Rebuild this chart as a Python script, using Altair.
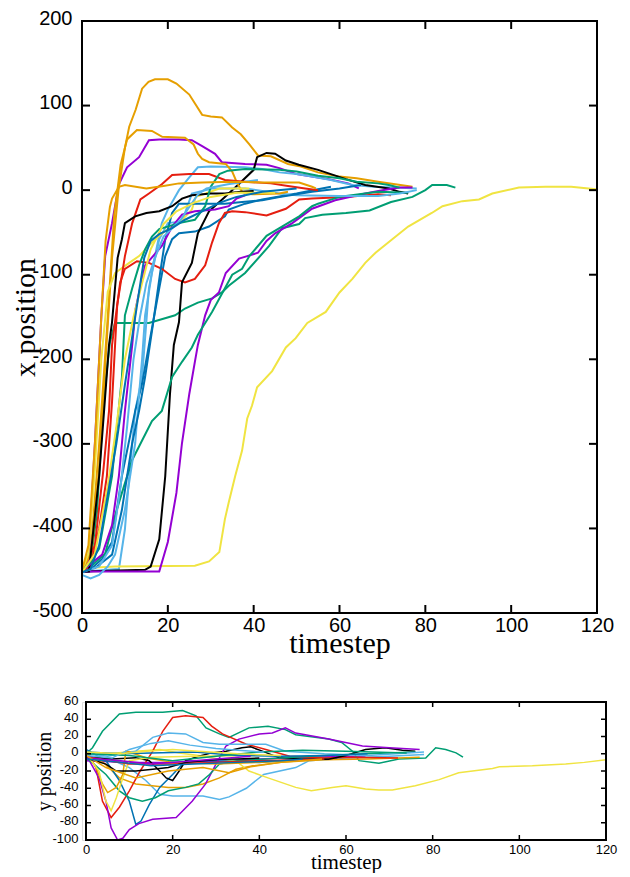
import altair as alt
import pandas as pd

# gnuplot default colour cycle
COL = {"purple": "#9400D3", "green": "#009E73", "lightblue": "#56B4E9", "orange": "#E69F00",
       "yellow": "#F0E442", "blue": "#0072B2", "red": "#E51E10", "black": "#000000"}

x_ticks = [0, 20, 40, 60, 80, 100, 120]
top_y_ticks = [-500, -400, -300, -200, -100, 0, 100, 200]
bot_y_ticks = [-100, -80, -60, -40, -20, 0, 20, 40, 60]

# ---------- trajectories: (name, colour, x-panel t, x values, y-panel t, y values) ----------
I_xt = [0, 1.5, 3, 4.5, 5.4, 7, 8.6, 10.5, 13.3, 15.6, 18, 22.6, 25.6, 28, 31, 32.6, 38, 43, 46, 50, 57.5, 62, 64.5]
I_xv = [-450, -440, -300, -150, -78, -39, 7, 27, 39, 59, 60, 60, 59, 52, 43, 33, 31, 30, 26, 19, 13, 8, 2]
I_yt = [0, 10, 20, 30, 40, 50, 64.5]
I_yv = [-8, -10, -10, -9, -6, -4, -3]

L_xt = [0, 2, 3.5, 5, 6.5, 7.7, 15.6, 21.7, 24, 27, 30.3, 32.6, 34.2, 38, 43.6, 46.6, 50.6, 52, 56, 61.5, 67, 72, 77, 80, 81.6, 85, 87]
L_xv = [-450, -440, -380, -250, -180, -157, -157, -148, -140, -133, -128, -121, -113, -98, -66, -45, -40, -33, -29, -27, -24, -14, -8, 0, 6, 6, 3]
L_yt = [0, 1.5, 3.8, 7.7, 11.5, 17.7, 22.3, 25.4, 27.7, 30.8, 33, 37.6, 42, 46, 48.4, 56, 59, 61.5, 63, 67.6, 72.2, 78.4, 80.7, 83, 85.4, 87]
L_yv = [0, 7, 26, 46, 48, 48, 50, 44, 30, 23, 19, 30, 32, 28, 22, 17, 13, 3, -8, -11, -6, -5, 7, 5, 1, -4]

O_xt = [0, 3, 6, 8.6, 10, 11, 12.4, 14, 15.6, 17, 18.6, 20, 22.6, 25, 27, 30, 38, 42, 46, 50, 53.6, 58, 63, 68, 73, 78]
O_xv = [-452, -450, -449, -448, -401, -338, -261, -221, -116, -78, -39, -23, 0, 15, 27, 28, 27, 25, 21, 19, 16, 12, 6, 4, 3, 2]
O_yt = [0, 5, 10, 13.8, 17, 20, 27, 30.8, 33, 37, 41, 48.4, 51.5, 60, 70, 78]
O_yv = [-3, -5, -16, -31, -47, -49, -49, -53, -50, -40, -24, -16, -8, -5, -3, -1]

A_xt = [0, 2, 4, 5.5, 7, 8.5, 10, 11, 12.5, 14, 15.5, 17, 20, 22, 25, 28, 30, 32.6, 35, 37, 39, 41, 44, 48, 51, 55, 60, 64, 69, 73, 77]
A_xv = [-450, -440, -330, -200, -80, 0, 50, 75, 95, 120, 128, 131, 131, 126, 113, 89, 87, 86, 74, 66, 54, 41, 40, 31, 28, 21, 16, 14, 10, 7, 4]
A_yt = [0, 4, 7.7, 11.5, 19, 23, 27, 30.8, 34.6, 38.5, 45, 55, 65, 77]
A_yv = [-3, -10, -28, -35, -39, -39, -35, -28, -18, -14, -10, -7, -6, -4]

Y1_xt = [0, 7.7, 26.3, 29.6, 32, 33.3, 34.2, 35.7, 37.3, 38.5, 39.6, 40.8, 44.3, 47.5, 49.8, 52.5, 56.8, 60, 63, 66, 68.4, 72.3, 76, 81.5, 84, 88.6, 92.5, 95.6, 101.8, 108, 114, 119.8]
Y1_xv = [-447, -445, -444, -439, -428, -389, -369, -338, -308, -270, -255, -233, -214, -186, -175, -157, -144, -121, -105, -86, -74, -58, -43, -27, -19, -13, -11, -4, 3, 4, 4, 1]
Y1_yt = [0, 5, 11.5, 17, 21.5, 26, 30.8, 34.6, 37.6, 42, 48.4, 52, 56.8, 60, 64.5, 67.6, 70.7, 76, 81.5, 86, 93.8, 95.4, 103, 110.7, 115, 120]
Y1_yv = [-1, 0, 3, 5, 1, -2, -6.5, -8.4, -20, -28, -39, -43, -39, -37, -41, -42, -42, -37, -30, -22, -17, -15, -14, -12, -10, -7]

Q_xt = [0, 2.3, 4.7, 7, 9.3, 12.4, 14, 15.6, 18, 19.4, 21, 22.6, 26.3, 29.6, 33.3, 34.2, 38, 42, 50, 55, 58]
Q_xv = [-450, -447, -436, -416, -338, -261, -229, -183, -116, -78, -58, -51, -49, -43, -31, -23, -16, -11, -4, 1, 4]
Q_yt = [0, 4.6, 7.7, 10, 11.5, 12.7, 14.6, 17, 20, 23, 30, 40, 50, 58]
Q_yv = [5, -8, -31, -55, -82, -78, -59, -39, -24, -8, -8, -10, -6, -5]

H_xt = [0, 3, 5, 6.3, 7, 8.9, 10, 12.8, 15.6, 18.6, 21.7, 24, 26.3, 28.7, 30.3, 31.9, 33.3, 35, 38, 43, 47.5, 50.6, 53.6, 61.5, 69, 72]
H_xv = [-450, -420, -330, -261, -183, -109, -93, -84, -86, -93, -105, -109, -105, -89, -62, -39, -27, -25, -26, -30, -22, -11, -10, -8, -5, -6]
H_yt = [0, 2.3, 3.8, 5.8, 7.7, 10, 12.5, 15.4, 17.7, 20, 23, 27, 29, 31.5, 37, 41.5, 47, 55, 62, 72]
H_yv = [2, -16, -55, -74, -62, -43, -20, 3, 26, 42, 44, 42, 32, 23, 11, 5, -3, -5, -4, -5]

E_xt = [0, 14.7, 16, 18, 19.4, 20.5, 21.4, 22.6, 23.3, 25.6, 27, 29.6, 33.3, 36.5, 40, 40.8, 43, 45, 47.5, 50.5, 55, 61.5, 66, 71.5, 74, 76]
E_xv = [-451, -449, -445, -413, -338, -241, -183, -156, -109, -86, -51, -25, -8, 7, 24, 39, 44, 43, 35, 30, 24, 13, 6, 2, -2, -4]
E_yt = [0, 6, 11.5, 14.6, 17, 18.5, 20, 21.5, 23, 26, 29, 32.3, 36, 38, 40.7, 44.5, 50, 56, 60, 64.5, 69, 73, 76]
E_yv = [-3, -6, -4.5, -8, -20, -28, -31, -20, -8, -3, 1, 3, 7, 8, 3, -4.5, -6, -6.5, -2, 5, 7, 4, 3]

J_xt = [0, 18, 20, 22, 23.3, 25, 26.3, 27, 28.7, 30, 31.9, 33.5, 36.6, 38.5, 41, 43, 45, 49, 53.6, 59, 66, 70, 74, 77]
J_xv = [-451, -451, -416, -358, -299, -241, -203, -183, -148, -130, -121, -98, -81, -78, -74, -60, -51, -39, -22, -12, -4, 0, 3, 3]
J_yt = [0, 3, 4.6, 5.8, 7.3, 8.5, 10, 12.2, 15.4, 20.8, 24.5, 27.6, 30, 32.3, 35.3, 40, 43, 46, 48.4, 56, 63.8, 70, 77]
J_yv = [-1, -28, -55, -86, -100, -98, -88, -81, -76, -74, -55, -35, -12, 9, 17, 23, 24, 30, 24, 17, 9, 7, 5]

M_xt = [0, 1.6, 5.4, 7.7, 9.3, 11.7, 14, 16.3, 18.6, 21, 23.3, 25.6, 27, 30.3, 33.3, 35, 37.3, 39, 43, 46, 50.6, 53.6, 55, 60, 61.5, 69, 76]
M_xv = [-452, -447, -430, -385, -358, -319, -296, -273, -261, -221, -203, -186, -171, -144, -116, -100, -93, -78, -54, -45, -31, -19, -16, -8, -7, -2, -3]
M_yt = [0, 4.6, 7.7, 10, 13, 16, 19, 23, 26, 28.5, 30.8, 35, 45, 55, 65, 76]
M_yv = [-4, -24, -43, -51, -55, -51, -43, -39, -35, -24, -12, -8, -5, -2, 0, 2]

P_xt = [0, 2, 4, 6, 7.7, 10, 12.4, 13.3, 14, 14.7, 16.3, 18, 20, 23.3, 24.5, 25.6, 30.3, 38, 46, 50, 60, 69, 74, 78]
P_xv = [-455, -459, -455, -445, -431, -378, -299, -241, -200, -148, -98, -58, -39, -37, -20, -4, 2, 2, -4, -6, -7, -7, -4, 0]
P_yt = [0, 5, 11.5, 15.4, 19, 23, 27, 30.8, 41.5, 46, 55, 65, 78]
P_yv = [0, -3, 3, 19, 24, 23, 13, 11, 11, 3, 0, -2, 2]

B_xt = [0, 2, 4, 6, 7.5, 9, 10.5, 12.8, 16.3, 18.7, 24, 26, 27, 28, 29.6, 33.5, 35, 36, 37.3, 39.6, 46, 48]
B_xv = [-450, -430, -300, -150, -30, 30, 60, 71, 70, 63, 62, 54, 43, 37, 33, 31, 22, 10, -2, -5, -4, -2]
B_yt = [0, 2.3, 3.8, 5, 7, 8.5, 9.2, 10, 14, 20, 30, 40, 48]
B_yv = [3, -16, -35, -45, -39, -24, 3, 2, -5, -10, -12, -10, -8]

Y2_xt = [0, 1.5, 3, 4.5, 6, 7.7, 11, 13.3, 16.3, 18, 20, 22.6, 25.6, 26.5, 28.8, 32, 39]
Y2_xv = [-450, -430, -330, -200, -120, -98, -86, -78, -62, -54, -46, -39, -23, -8, -4, 2, 2]
Y2_yt = [0, 3, 4.6, 5.8, 7, 8.5, 10, 15, 25, 39]
Y2_yv = [0, -20, -55, -66, -51, -28, -8, -4, -3, -2]

R_xt = [0, 3, 7, 9.3, 11.7, 13.3, 14.7, 16.5, 18.2, 19.4, 21, 22.6, 27, 33.3, 37.3, 42, 46, 53.6, 60, 65]
R_xv = [-450, -447, -431, -378, -299, -261, -221, -160, -98, -58, -27, -16, -16, -16, -14, -12, -8, -2, 2, 6]
R_yt = [0, 8, 15, 25, 35, 45, 55, 65]
R_yv = [2, 0, 1, 2, -2, -3, -2, 0]

G_xt = [0, 2, 4, 5.8, 7, 8.2, 10, 11.7, 13.6, 15.6, 18.6, 21, 25, 29.6, 33.3, 38, 44, 48, 52, 55]
G_xv = [-450, -445, -400, -338, -250, -136, -78, -39, -11, -4, 7, 18, 19, 19, 12, 10, 8, 5, 2, 0]
G_yt = [0, 5, 10, 20, 30, 40, 55]
G_yv = [-3, -8, -12, -12, -10, -8, -6]

F_xt = [0, 1.6, 4, 6.3, 7, 8.3, 9.3, 10, 12.4, 15, 18, 21, 23.3, 25.6, 30, 33.3, 37, 40]
F_xv = [-451, -451, -338, -183, -156, -80, -58, -39, -31, -27, -25, -19, -10, -6, -4, -4, -2, -1]
F_yt = [0, 4.6, 7, 11.5, 15.4, 19, 23, 27, 30.8, 35, 40]
F_yv = [-5, -12, -20, -20, -18, -16, -10, -8, -6.5, -6, -5]

K_xt = [0, 2.5, 4.7, 7, 8.6, 10, 11.7, 12.5, 14.7, 18.6, 21, 23.3, 26.3, 31, 34.2, 36, 38]
K_xv = [-450, -440, -431, -396, -338, -261, -183, -140, -89, -66, -43, -29, -25, -23, -19, -10, -6]
K_yt = [0, 8, 15, 25, 38]
K_yv = [-5, -8, -12, -8, -3]

N_xt = [0, 2, 4, 7, 9.3, 10, 11.7, 13.3, 14.7, 16.3, 18, 22.6, 26.3, 28.7, 30, 32, 34, 38, 46, 50, 55, 60, 64, 69, 71.5, 74]
N_xv = [-450, -440, -424, -338, -221, -148, -116, -89, -70, -55, -46, -39, -35, -19, 4, 19, 23, 25, 24, 22, 17, 14, 10, 8, 6, 3]
N_yt = [0, 10, 20, 30, 40, 50, 60, 74]
N_yv = [0, -2, -8, -3, 2, 4, 3, 1]

T_xt = [0, 4, 7, 9, 10.5, 12, 13.5, 15, 17, 19, 21, 23, 25, 27, 29, 34, 38, 41]
T_xv = [-452, -445, -420, -350, -280, -200, -150, -110, -80, -55, -45, -35, -20, -5, 2, 7, 10, 12]
T_yt = [0, 6, 10, 15, 19, 24, 30, 35, 41]
T_yv = [-2, -5, 5, 12, 15, 10, 6, 4, 2]

C_xt = [0, 1.5, 3, 4.5, 5.5, 6.5, 7, 8.6, 10, 15, 19, 22.6, 28, 35, 42, 50.6, 53.6, 54.5]
C_xv = [-450, -420, -300, -150, -60, -20, -10, 4, 6, 2, 5, 8, 9, 10, 9, 9, 4, 2]
C_yt = [0, 4.6, 11.5, 19, 27, 33, 38, 45, 54.5]
C_yv = [-2, -16, -28, -20, -16, -22, -15, -10, -6]

Y3_xt = [0, 3, 6, 8, 10, 12, 14, 16, 19, 22, 26, 30, 36, 45]
Y3_xv = [-452, -430, -350, -280, -200, -150, -110, -70, -40, -25, -15, -8, -3, -3]
Y3_yt = [0, 8, 14, 20, 26, 35, 45]
Y3_yv = [2, 0, 3, 5, 3, 0, -2]

S_xt = [0, 2, 4, 6, 8, 10, 11.5, 13, 14.5, 16, 18, 21, 24, 28, 32, 36, 42, 50]
S_xv = [-452, -448, -420, -360, -300, -230, -180, -130, -80, -60, -52, -45, -35, -25, -15, -8, -2, 2]
S_yt = [0, 8, 15, 25, 35, 45, 50]
S_yv = [-6, -10, -14, -12, -10, -8, -6]

trajectories = [
    ("t01", "purple", I_xt, I_xv, I_yt, I_yv),
    ("t02", "green", L_xt, L_xv, L_yt, L_yv),
    ("t03", "lightblue", O_xt, O_xv, O_yt, O_yv),
    ("t04", "orange", A_xt, A_xv, A_yt, A_yv),
    ("t05", "yellow", Y1_xt, Y1_xv, Y1_yt, Y1_yv),
    ("t06", "blue", Q_xt, Q_xv, Q_yt, Q_yv),
    ("t07", "red", H_xt, H_xv, H_yt, H_yv),
    ("t08", "black", E_xt, E_xv, E_yt, E_yv),
    ("t09", "purple", J_xt, J_xv, J_yt, J_yv),
    ("t10", "green", M_xt, M_xv, M_yt, M_yv),
    ("t11", "lightblue", P_xt, P_xv, P_yt, P_yv),
    ("t12", "orange", B_xt, B_xv, B_yt, B_yv),
    ("t13", "yellow", Y2_xt, Y2_xv, Y2_yt, Y2_yv),
    ("t14", "blue", R_xt, R_xv, R_yt, R_yv),
    ("t15", "red", G_xt, G_xv, G_yt, G_yv),
    ("t16", "black", F_xt, F_xv, F_yt, F_yv),
    ("t17", "purple", K_xt, K_xv, K_yt, K_yv),
    ("t18", "green", N_xt, N_xv, N_yt, N_yv),
    ("t19", "lightblue", T_xt, T_xv, T_yt, T_yv),
    ("t20", "orange", C_xt, C_xv, C_yt, C_yv),
    ("t21", "yellow", Y3_xt, Y3_xv, Y3_yt, Y3_yv),
    ("t22", "blue", S_xt, S_xv, S_yt, S_yv),
]

xrows, yrows = [], []
for name, col, xt, xv, yt, yv in trajectories:
    for i, (t, v) in enumerate(zip(xt, xv)):
        xrows.append({"traj": name, "t": t, "v": v, "i": i})
    for i, (t, v) in enumerate(zip(yt, yv)):
        yrows.append({"traj": name, "t": t, "v": v, "i": i})
xdf = pd.DataFrame(xrows)
ydf = pd.DataFrame(yrows)

ids = [tr[0] for tr in trajectories]
cols = [COL[tr[1]] for tr in trajectories]
color = alt.Color("traj:N", scale=alt.Scale(domain=ids, range=cols), legend=None)

SANS = "Liberation Sans"
SERIF = "Liberation Serif"

# ---------------- top panel ----------------
TW, TH = 515, 592
tx = alt.Scale(domain=[0, 120], nice=False, zero=False)
ty = alt.Scale(domain=[-500, 200], nice=False, zero=False)

top_x_axis = alt.Axis(values=x_ticks, labelExpr="'' + datum.value", labelFont=SANS, labelFontSize=20,
                      labelColor="black", labelPadding=2, labelFlush=False, labelOverlap=False,
                      ticks=False, domain=False, grid=False, title="timestep", titleFont=SERIF,
                      titleFontSize=30, titleFontWeight="normal", titleColor="black", titlePadding=-7)
top_y_axis = alt.Axis(values=top_y_ticks, labelExpr="'' + datum.value", labelFont=SANS, labelFontSize=20,
                      labelColor="black", labelPadding=10, labelOffset=-3, labelFlush=False,
                      labelOverlap=False, ticks=False, domain=False, grid=False, title="x position",
                      titleFont=SERIF, titleFontSize=30, titleFontWeight="normal", titleColor="black",
                      titlePadding=-9)

top_lines = alt.Chart(xdf).mark_line(strokeWidth=2, clip=True).encode(
    x=alt.X("t:Q", scale=tx, axis=top_x_axis, title="timestep"),
    y=alt.Y("v:Q", scale=ty, axis=top_y_axis, title="x position"),
    color=color, detail="traj:N", order="i:Q")

top_frame = alt.Chart(pd.DataFrame({"a": [0]})).mark_rect(fill="transparent", stroke="black", strokeWidth=2).encode(
    x=alt.X(datum=0, axis=top_x_axis, title="timestep"), x2=alt.datum(120),
    y=alt.Y(datum=-500, axis=top_y_axis, title="x position"), y2=alt.datum(200))

txt = pd.DataFrame({"t": x_ticks})
tyt = pd.DataFrame({"v": top_y_ticks})
top_ticks = alt.layer(
    alt.Chart(txt).mark_rule(color="black", strokeWidth=2).encode(
        x=alt.X("t:Q", axis=top_x_axis, title="timestep"), y=alt.value(TH), y2=alt.value(TH - 8)),
    alt.Chart(txt).mark_rule(color="black", strokeWidth=2).encode(
        x=alt.X("t:Q", axis=top_x_axis, title="timestep"), y=alt.value(0), y2=alt.value(8)),
    alt.Chart(tyt).mark_rule(color="black", strokeWidth=2).encode(
        y=alt.Y("v:Q", axis=top_y_axis, title="x position"), x=alt.value(0), x2=alt.value(8)),
    alt.Chart(tyt).mark_rule(color="black", strokeWidth=2).encode(
        y=alt.Y("v:Q", axis=top_y_axis, title="x position"), x=alt.value(TW), x2=alt.value(TW - 8)),
)

top = alt.layer(top_lines, top_frame, top_ticks).properties(width=TW, height=TH)

# ---------------- bottom panel ----------------
BW, BH = 524, 138
bx = alt.Scale(domain=[0, 120], nice=False, zero=False, range=[4, BW])
by = alt.Scale(domain=[-100, 60], nice=False, zero=False)

bot_x_axis = alt.Axis(values=x_ticks, labelExpr="'' + datum.value", labelFont=SANS, labelFontSize=13,
                      labelColor="black", labelPadding=3, labelFlush=False, labelOverlap=False,
                      ticks=False, domain=False, grid=False, title="timestep", titleFont=SERIF,
                      titleFontSize=21, titleFontWeight="normal", titleColor="black", titlePadding=-5)
bot_y_axis = alt.Axis(values=bot_y_ticks, labelExpr="'' + datum.value", labelFont=SANS, labelFontSize=13,
                      labelColor="black", labelPadding=4, labelOffset=-2, labelFlush=False,
                      labelOverlap=False, labelSeparation=0, ticks=False, domain=False, grid=False,
                      title="y position", titleFont=SERIF, titleFontSize=20, titleFontWeight="normal",
                      titleColor="black", titlePadding=-3)

bot_lines = alt.Chart(ydf).mark_line(strokeWidth=1.5, clip=True).encode(
    x=alt.X("t:Q", scale=bx, axis=bot_x_axis, title="timestep"),
    y=alt.Y("v:Q", scale=by, axis=bot_y_axis, title="y position"),
    color=color, detail="traj:N", order="i:Q")

bot_frame = alt.Chart(pd.DataFrame({"a": [0]})).mark_rect(fill="transparent", stroke="black", strokeWidth=2).encode(
    x=alt.X(datum=0, axis=bot_x_axis, title="timestep"), x2=alt.datum(120),
    y=alt.Y(datum=-100, axis=bot_y_axis, title="y position"), y2=alt.datum(60))

byt = pd.DataFrame({"v": bot_y_ticks})
bot_ticks = alt.layer(
    alt.Chart(txt).mark_rule(color="black", strokeWidth=1.5).encode(
        x=alt.X("t:Q", axis=bot_x_axis, title="timestep"), y=alt.value(BH), y2=alt.value(BH - 5)),
    alt.Chart(txt).mark_rule(color="black", strokeWidth=1.5).encode(
        x=alt.X("t:Q", axis=bot_x_axis, title="timestep"), y=alt.value(0), y2=alt.value(5)),
    alt.Chart(byt).mark_rule(color="black", strokeWidth=1.5).encode(
        y=alt.Y("v:Q", axis=bot_y_axis, title="y position"), x=alt.value(4), x2=alt.value(9)),
    alt.Chart(byt).mark_rule(color="black", strokeWidth=1.5).encode(
        y=alt.Y("v:Q", axis=bot_y_axis, title="y position"), x=alt.value(BW), x2=alt.value(BW - 5)),
)

bottom = alt.layer(bot_lines, bot_frame, bot_ticks).properties(width=BW, height=BH)

chart = alt.vconcat(top, bottom, spacing=89, bounds="flush").properties(
    padding={"left": 2, "top": -1, "right": 0, "bottom": 0}
).configure_view(stroke=None).configure(background="white")

chart.save("out.html", embed_options={"renderer": "svg", "actions": False})
